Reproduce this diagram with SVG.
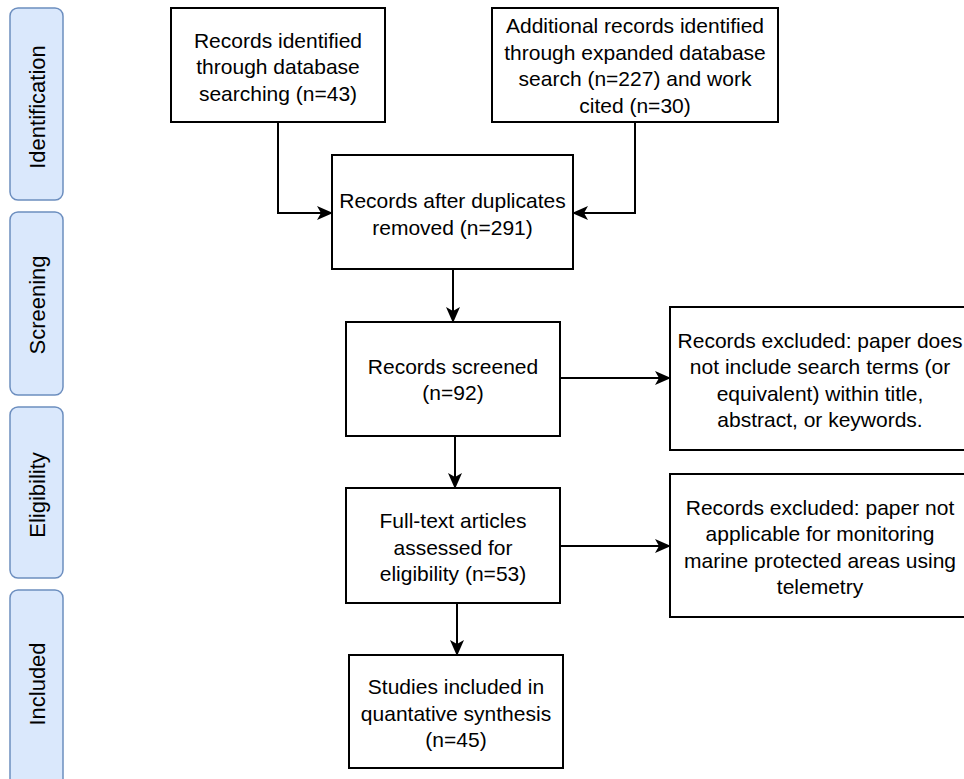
<svg xmlns="http://www.w3.org/2000/svg" width="964" height="779" viewBox="0 0 964 779">
<style>
.tab{fill:#dae8fc;stroke:#6c8ebf;stroke-width:1.5}
.box{fill:#ffffff;stroke:#000000;stroke-width:2}
text{font-family:"Liberation Sans",Arial,sans-serif;font-size:21px;fill:#000;text-anchor:middle}
.tl{font-size:22px}
.edge{fill:none;stroke:#000;stroke-width:2;marker-end:url(#arr)}
</style>
<defs>
<marker id="arr" viewBox="0 0 16 14" refX="15" refY="7" markerWidth="16" markerHeight="14" markerUnits="userSpaceOnUse" orient="auto">
<path d="M0,0 L16,7 L0,14 L4,7 z" fill="#000"/>
</marker>
</defs>
<rect width="964" height="779" fill="#fff"/>
<g id="tab-identification"><rect class="tab" x="10" y="8" width="53" height="192" rx="8"/><text class="tl" transform="translate(45,107) rotate(-90)">Identification</text></g>
<g id="tab-screening"><rect class="tab" x="10" y="212" width="53" height="183" rx="8"/><text class="tl" transform="translate(45,305) rotate(-90)">Screening</text></g>
<g id="tab-eligibility"><rect class="tab" x="10" y="407" width="53" height="171" rx="8"/><text class="tl" transform="translate(45,495) rotate(-90)">Eligibility</text></g>
<g id="tab-included"><rect class="tab" x="10" y="590" width="53" height="200" rx="8"/><text class="tl" transform="translate(45,684) rotate(-90)">Included</text></g>

<g id="connectors">
<path class="edge" d="M278,122 V213 H332"/>
<path class="edge" d="M635,122 V213 H573"/>
<path class="edge" d="M453,269 V322"/>
<path class="edge" d="M560,378 H670"/>
<path class="edge" d="M455,436 V488"/>
<path class="edge" d="M560,546 H670"/>
<path class="edge" d="M457,603 V655"/>
</g>

<g id="n-db"><rect class="box" x="171" y="8" width="214" height="114"/>
<text x="278" y="47.5">Records identified</text><text x="278" y="74">through database</text><text x="278" y="100.5">searching (n=43)</text></g>
<g id="n-additional"><rect class="box" x="492" y="8" width="286" height="114"/>
<text x="635" y="33">Additional records identified</text><text x="635" y="59.5">through expanded database</text><text x="635" y="86">search (n=227) and work</text><text x="635" y="112.5">cited (n=30)</text></g>
<g id="n-dup"><rect class="box" x="332" y="155" width="241" height="114"/>
<text x="452.5" y="208">Records after duplicates</text><text x="452.5" y="235">removed (n=291)</text></g>
<g id="n-screened"><rect class="box" x="346" y="322" width="214" height="114"/>
<text x="453" y="374">Records screened</text><text x="453" y="400">(n=92)</text></g>
<g id="n-excl1"><rect class="box" x="670" y="307" width="300" height="143"/>
<text x="820" y="348">Records excluded: paper does</text><text x="820" y="374">not include search terms (or</text><text x="820" y="400.5">equivalent) within title,</text><text x="820" y="427">abstract, or keywords.</text></g>
<g id="n-fulltext"><rect class="box" x="346" y="488" width="214" height="115"/>
<text x="453" y="528">Full-text articles</text><text x="453" y="554.5">assessed for</text><text x="453" y="581">eligibility (n=53)</text></g>
<g id="n-excl2"><rect class="box" x="670" y="474" width="300" height="143"/>
<text x="820" y="515">Records excluded: paper not</text><text x="820" y="541">applicable for monitoring</text><text x="820" y="567.5">marine protected areas using</text><text x="820" y="594">telemetry</text></g>
<g id="n-included"><rect class="box" x="349" y="655" width="214" height="113"/>
<text x="456" y="694">Studies included in</text><text x="456" y="721">quantative synthesis</text><text x="456" y="747">(n=45)</text></g>
</svg>
